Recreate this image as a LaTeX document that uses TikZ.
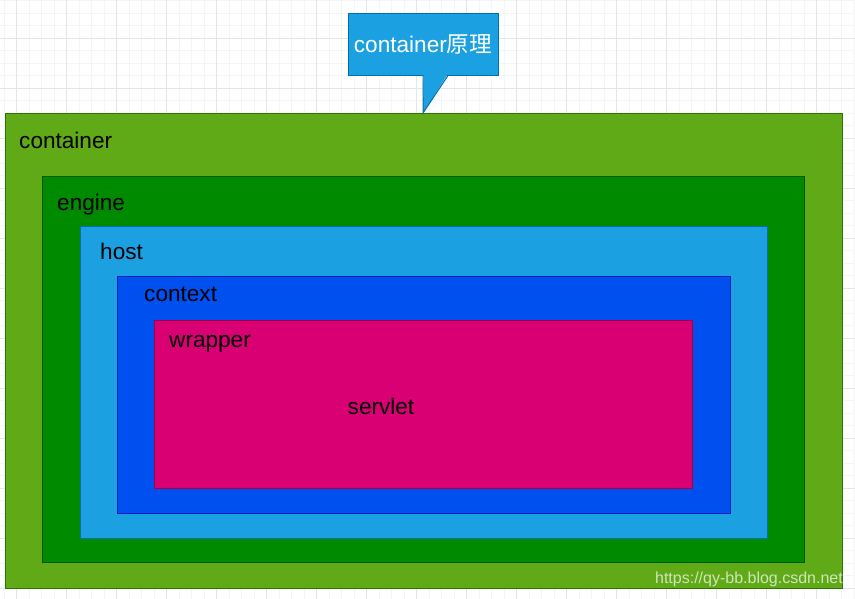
\documentclass[tikz,border=0pt]{standalone}
\usepackage{fontspec}
\setmainfont{Liberation Sans}
\newfontfamily\cjk{Noto Sans CJK SC}
\usetikzlibrary{calc}
\definecolor{contfill}{HTML}{60A917}
\definecolor{contline}{HTML}{2D7600}
\definecolor{engfill}{HTML}{008A00}
\definecolor{engline}{HTML}{005700}
\definecolor{hostfill}{HTML}{1BA1E2}
\definecolor{hostline}{HTML}{006EAF}
\definecolor{ctxfill}{HTML}{0050EF}
\definecolor{ctxline}{HTML}{001DBC}
\definecolor{wrapfill}{HTML}{D80073}
\definecolor{wrapline}{HTML}{A50040}
\tikzset{
  layer/.style    = {draw, rectangle, line width=1pt, anchor=north west,
                     inner sep=0pt},
  tag/.style      = {anchor=base west, inner sep=0pt,
                     font=\fontsize{22.6}{26}\selectfont},
  titlebox/.style = {rectangle, fill=hostfill, draw=hostline, line width=1pt,
                     minimum width=150pt, minimum height=62pt, inner sep=0pt,
                     text=white, font=\fontsize{22.6}{26}\selectfont},
  minorgrid/.style = {draw=black!4, line width=0.8pt},
  majorgrid/.style = {draw=black!10, line width=0.8pt},
}
\begin{document}
\begin{tikzpicture}[x=1pt,y=-1pt]
\useasboundingbox (0,0) rectangle (855,598);
% background grid
\begin{scope}
\clip (0,0) rectangle (855,598);
\draw[minorgrid, step=12.5pt, xshift=4.2pt, yshift=-0.8pt] (-20,-20) grid (880,620);
\draw[majorgrid, step=50pt, xshift=16.7pt, yshift=-38.3pt] (-60,-60) grid (900,640);
\end{scope}
% nested layers
\node[layer, fill=contfill, draw=contline, minimum width=837pt, minimum height=475pt] (container) at (5,113) {};
\node[layer, fill=engfill, draw=engline, minimum width=762pt, minimum height=386pt] (engine) at (42,176) {};
\node[layer, fill=hostfill, draw=hostline, minimum width=687pt, minimum height=312pt] (host) at (80,226) {};
\node[layer, fill=ctxfill, draw=ctxline, minimum width=613pt, minimum height=237pt] (context) at (117,276) {};
\node[layer, fill=wrapfill, draw=wrapline, minimum width=538pt, minimum height=168pt] (wrapper) at (154,320) {};
% labels
\node[tag] (containerlbl) at ($(container.north west)+(14,35)$) {container};
\node[tag] (enginelbl) at ($(engine.north west)+(15,34)$) {engine};
\node[tag] (hostlbl) at ($(host.north west)+(20,33)$) {host};
\node[tag] (contextlbl) at ($(context.north west)+(27,25)$) {context};
\node[tag] (wrapperlbl) at ($(wrapper.north west)+(15,27)$) {wrapper};
\node[tag, anchor=base] (servlet) at (381,414) {servlet};
% title callout
\node[titlebox] (title) at (423,44) {container{\cjk 原理}};
\coordinate (tip) at (423,113);
\fill[hostfill] ($(title.south)+(0.6,-1)$) -- (tip) -- ($(title.south)+(24.4,-1)$) -- cycle;
\draw[hostline, line width=1pt] (title.south) -- (tip) -- ($(title.south)+(25,0)$);
% watermark
\node[anchor=base east, inner sep=0pt, text=white, text opacity=0.7,
      font=\fontsize{16}{19}\selectfont] (mark) at (843,583) {https://qy-bb.blog.csdn.net};
\end{tikzpicture}
\end{document}
